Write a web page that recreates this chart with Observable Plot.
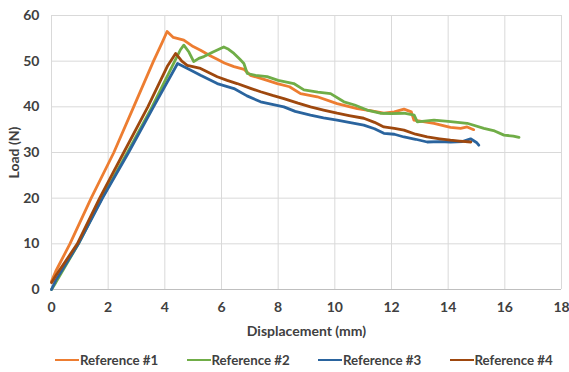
<!DOCTYPE html>
<html>
<head>
<meta charset="utf-8">
<script src="https://cdn.jsdelivr.net/npm/d3@7"></script>
<script src="https://cdn.jsdelivr.net/npm/@observablehq/plot@0.6"></script>
<style>
  body { margin: 0; background: #fff; font-family: Lato, "Open Sans", sans-serif; }
  #chart { width: 569px; height: 340px; }
  #legend { display: flex; align-items: center; height: 20px; margin-top: 10px; padding-left: 55px; font-weight: bold; font-size: 13.3px; color: #404040; white-space: nowrap; width: 569px; box-sizing: border-box; }
  .item { display: flex; align-items: center; width: 131.5px; flex-shrink: 0; white-space: nowrap; }
  .item svg { margin-right: 1px; flex-shrink: 0; }
</style>
</head>
<body>
<div id="chart"></div>
<div id="legend"></div>
<script>
const seriesNames = ["Reference #1", "Reference #2", "Reference #3", "Reference #4"];
const seriesColors = ["#ED7D31", "#70AD47", "#2A649E", "#9E480E"];
const xTicks = [0, 2, 4, 6, 8, 10, 12, 14, 16, 18];
const yTicks = [0, 10, 20, 30, 40, 50, 60];

// [displacement (mm), load (N)]
const ref1 = [[0,1.8],[0.15,4],[0.65,10],[1.4,20],[2.2,30],[2.9,40],[3.6,50],[3.9,54],[4.08,56.5],[4.3,55.2],[4.67,54.6],[5.0,53.2],[5.26,52.4],[5.6,51.2],[5.85,50.4],[6.1,49.6],[6.44,48.8],[6.8,48.2],[7.02,46.9],[7.5,46.0],[7.97,45.1],[8.4,44.4],[8.79,42.9],[9.38,42.2],[10.08,40.7],[10.79,39.6],[11.3,39.1],[11.73,38.6],[12.1,38.9],[12.44,39.5],[12.7,38.9],[12.79,37.1],[13.5,36.4],[14.08,35.5],[14.44,35.3],[14.67,35.6],[14.9,35.0]];
const ref2 = [[0,0],[0.15,1.5],[0.95,10],[1.78,20],[2.68,30],[3.55,40],[4.35,50],[4.55,52.5],[4.67,53.5],[4.85,52],[5.02,49.9],[5.2,50.6],[5.38,51.0],[5.7,52.0],[6.08,53.1],[6.25,52.6],[6.44,51.7],[6.65,50.4],[6.79,49.5],[6.91,47.3],[7.2,46.9],[7.61,46.6],[8.0,45.8],[8.55,45.1],[8.91,43.7],[9.4,43.2],[9.85,42.9],[10.32,41.1],[10.7,40.4],[11.14,39.3],[11.6,38.6],[12.0,38.5],[12.44,38.6],[12.8,38.2],[12.91,36.7],[13.5,37.1],[14.0,36.8],[14.67,36.4],[15.26,35.3],[15.6,34.8],[15.97,33.8],[16.3,33.6],[16.5,33.3]];
const ref3 = [[0,0],[0.15,2],[0.95,10],[1.8,20],[2.72,30],[3.6,40],[4.45,49.5],[4.8,48.4],[5.26,46.9],[5.85,45.1],[6.44,44.0],[6.9,42.4],[7.38,41.1],[8.2,40.0],[8.6,39.0],[9.14,38.2],[9.6,37.6],[10.08,37.1],[10.5,36.6],[11.02,36.0],[11.4,35.2],[11.73,34.2],[12.1,34.0],[12.44,33.4],[12.85,32.9],[13.26,32.3],[13.7,32.4],[14.08,32.3],[14.5,32.4],[14.79,33.0],[15.0,32.2],[15.08,31.6]];
const ref4 = [[0,1.5],[0.15,3],[0.91,10],[1.7,20],[2.55,30],[3.4,40],[4.1,49],[4.38,51.7],[4.6,50.0],[4.79,49.1],[5.26,48.4],[5.85,46.6],[6.2,45.8],[6.55,45.1],[7.0,44.1],[7.38,43.3],[7.8,42.5],[8.2,41.8],[8.7,40.8],[9.14,40.0],[9.6,39.3],[10.08,38.6],[10.5,38.1],[11.02,37.5],[11.4,36.6],[11.73,35.6],[12.1,35.3],[12.44,34.9],[12.85,34.0],[13.26,33.4],[13.7,33.0],[14.08,32.7],[14.4,32.5],[14.8,32.3]];

const rows = [ref1, ref2, ref3, ref4].flatMap((s, i) => s.map(([x, y]) => ({series: seriesNames[i], x, y})));

const chart = Plot.plot({
  width: 569, height: 340,
  marginLeft: 51, marginRight: 8, marginTop: 15, marginBottom: 51,
  style: {fontFamily: "Lato, 'Open Sans', sans-serif", fontSize: "14px", fontWeight: "bold", color: "#404040", background: "white"},
  x: {domain: [0, 18], label: "Displacement (mm)", labelArrow: "none"},
  y: {domain: [0, 60], label: "Load (N)", labelArrow: "none"},
  color: {domain: seriesNames, range: seriesColors},
  marks: [
    Plot.gridX(xTicks, {stroke: "#d9d9d9", strokeOpacity: 1, strokeWidth: 1}),
    Plot.gridY(yTicks, {stroke: "#d9d9d9", strokeOpacity: 1, strokeWidth: 1}),
    Plot.ruleY([0], {stroke: "#bfbfbf"}),
    Plot.axisX(xTicks, {tickSize: 0, tickPadding: 13, label: "Displacement (mm)", labelAnchor: "center", labelArrow: "none", labelOffset: 46}),
    Plot.axisY(yTicks, {tickSize: 0, tickPadding: 12, label: "Load (N)", labelAnchor: "center", labelArrow: "none", labelOffset: 42}),
    Plot.line(rows, {x: "x", y: "y", z: "series", stroke: "series", strokeWidth: 2.8, strokeLinejoin: "round"})
  ]
});
document.getElementById("chart").appendChild(chart);

const legend = document.getElementById("legend");
seriesNames.forEach((name, i) => {
  const item = document.createElement("div");
  item.className = "item";
  item.innerHTML = `<svg width="24" height="4"><line x1="0" x2="24" y1="2" y2="2" stroke="${seriesColors[i]}" stroke-width="2"/></svg><span>${name}</span>`;
  legend.appendChild(item);
});
</script>
</body>
</html>
